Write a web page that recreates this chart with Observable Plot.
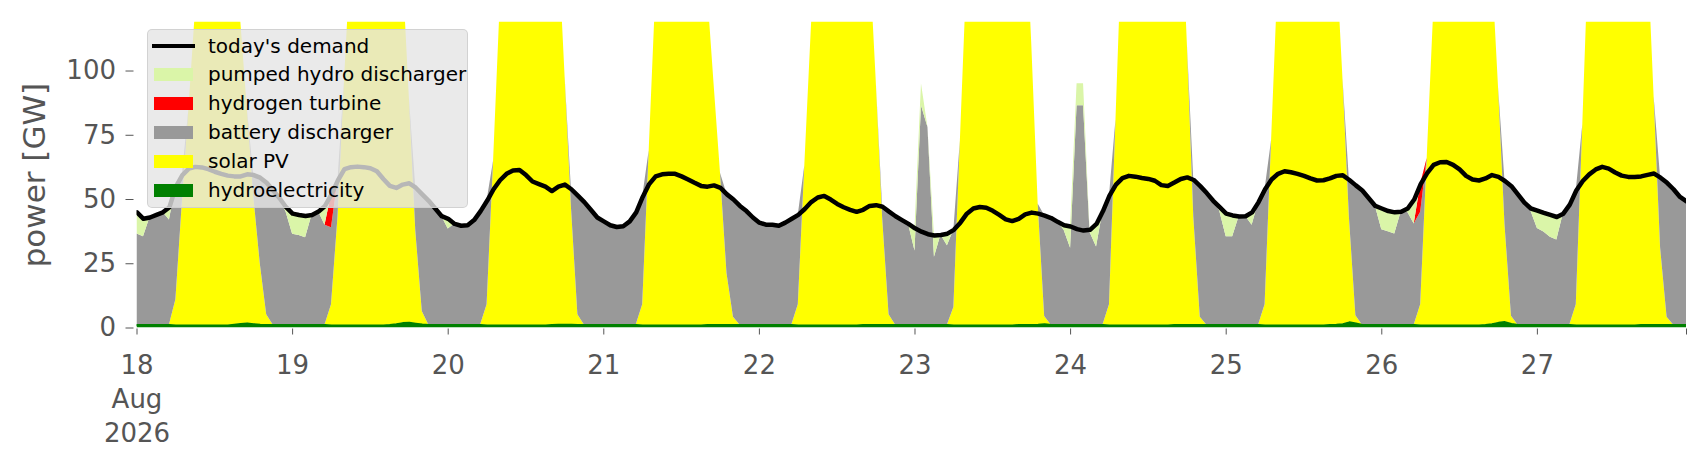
<!DOCTYPE html>
<html><head><meta charset="utf-8">
<script src="https://cdn.jsdelivr.net/npm/d3@7"></script>
<script src="https://cdn.jsdelivr.net/npm/@observablehq/plot@0.6"></script>
<style>
html,body{margin:0;padding:0;background:#fff;}
#wrap{position:relative;width:1706px;height:460px;overflow:hidden;font-family:"DejaVu Sans",sans-serif;background:#fff;}
#wrap svg{display:block;position:absolute;left:0;top:0;}
#legend{position:absolute;left:147px;top:29px;width:321px;height:179px;box-sizing:border-box;background:rgba(229,229,229,0.8);border:1px solid rgba(204,204,204,0.8);border-radius:5px;}
.item{position:absolute;left:0;height:29px;width:100%;}
.swatch{position:absolute;left:6px;width:39px;height:13px;top:8px;}
.lineswatch{position:absolute;left:4px;width:43px;height:4.5px;top:12px;}
.label{position:absolute;left:60px;top:0;line-height:29px;font-size:20px;color:#000;white-space:nowrap;}
</style></head>
<body><div id="wrap"><div id="legend"></div></div>
<script>
// ---------- data (hourly, 18 Aug 2026 00:00 .. 27 Aug 2026 23:00), GW ----------
const demand = [
  45,42.5,43,44,45,47, 55,59.5,62,62.7,62.5,61.8, 60.8,60,59.3,59,59,59.8, 59.5,58.5,56.5,53.5,50.5,47,          // 18
  44.5,44,43.6,44,45.3,47.5, 52,57.5,61.8,62.6,62.8,62.6, 62.2,61,58,55.3,54.5,55.8, 56.3,54.6,52,49.5,46.5,43.5, // 19
  42.5,40.5,39.8,40,42,45.5, 49.5,54,57.5,60,61.3,61.5, 59.5,57,56,55,53.3,55, 55.8,54,51.5,49,46,43,            // 20
  41.5,40,39.3,39.6,41.5,45, 51,56,59,59.8,60,60, 59,57.8,56.5,55.3,55,55.5, 54.5,52,50,47.5,45.5,43,             // 21
  41,40.2,40.2,39.8,41,42.5, 44,46.3,49,50.8,51.4,50, 48.3,47,46,45.2,46,47.5, 47.8,47.2,45.3,43.5,42,40.5,       // 22
  38.8,37.5,36.5,36,36.2,36.7, 38.2,41,44.5,46.5,47.1,46.8, 45.6,44,42.3,41.6,42.5,44.2, 44.9,44.5,43.7,42.8,41.3,40, // 23
  39.5,38.5,37.9,38.2,40.5,45.5, 51.5,55.8,58.3,59.2,58.9,58.4, 58,57.3,55.6,55.3,56.6,58, 58.6,57.6,55.2,52.5,49.5,47, // 24
  44.5,43.8,43.4,43.5,45,49, 54,57.8,60,61,60.6,60, 59.2,58.2,57.4,57.5,58.2,59.2, 59.4,57.6,55.5,53.5,50.5,47.5,  // 25
  46.5,45.5,45,45.2,46.5,50, 56,60.3,63.5,64.5,64.6,63.5, 61.7,59.2,57.8,57.4,58.2,59.5, 58.8,57.2,55.2,52,48.8,46.5, // 26
  45.7,44.8,44,43.2,44.5,48, 53.5,57.2,59.8,61.7,62.7,62, 60.5,59.3,58.8,58.8,59,59.6, 60.1,58.5,56.5,54,51,49.3   // 27
];
const hydro = [
  1.2,1.2,1.2,1.2,1.2,1.2, 1,1,1,1,1,1, 1,1,1,1.3,1.6,1.8, 1.5,1.3,1.2,1.2,1.2,1.2,
  1.2,1.2,1.2,1.2,1.2,1.2, 1,1,1,1,1,1, 1,1,1,1.2,1.5,1.9, 2.0,1.7,1.4,1.2,1.2,1.2,
  1.2,1.2,1.2,1.2,1.2,1.2, 1,1,1,1,1,1, 1,1,1,1,1.2,1.3, 1.3,1.3,1.2,1.2,1.2,1.2,
  1.2,1.2,1.2,1.2,1.2,1.2, 1,1,1,1,1,1, 1,1,1,1,1.2,1.2, 1.2,1.2,1.2,1.2,1.2,1.2,
  1.2,1.2,1.2,1.2,1.2,1.2, 1,1,1,1,1,1, 1,1,1,1,1.2,1.2, 1.2,1.2,1.2,1.2,1.2,1.2,
  1.2,1.2,1.2,1.2,1.2,1.2, 1,1,1,1,1,1, 1,1,1,1,1.2,1.2, 1.2,1.3,1.5,1.2,1.2,1.2,
  1.2,1.2,1.2,1.2,1.2,1.2, 1,1,1,1,1,1, 1,1,1,1,1.2,1.2, 1.2,1.2,1.2,1.2,1.2,1.2,
  1.2,1.2,1.2,1.2,1.2,1.2, 1,1,1,1,1,1, 1,1,1,1,1.2,1.3, 1.5,2.2,1.8,1.2,1.2,1.2,
  1.2,1.2,1.2,1.2,1.2,1.2, 1,1,1,1,1,1, 1,1,1,1,1.2,1.5, 2.0,2.3,1.6,1.2,1.2,1.2,
  1.2,1.2,1.2,1.2,1.2,1.2, 1,1,1,1,1,1, 1,1,1,1,1.2,1.2, 1.2,1.2,1.2,1.2,1.2,1.2
];
const solar = [
  0,0,0,0,0,0, 10,48,84,122,150,165, 172,168,158,140,118,84, 50,24,4,0,0,0,
  0,0,0,0,0,0, 8,42,95,143,170,185, 190,185,178,168,155,138, 88,36,5,0,0,0,
  0,0,0,0,0,0, 8,64,124,165,190,205, 210,205,195,182,167,150, 98,46,4,0,0,0,
  0,0,0,0,0,0, 8,68,128,170,195,210, 212,208,195,172,130,94, 59,20,3,0,0,0,
  0,0,0,0,0,0, 8,62,115,165,190,205, 210,205,195,180,165,145, 96,42,4,0,0,0,
  0,0,0,0,0,0, 7,72,136,180,205,220, 225,220,210,195,180,165, 110,47,3,0,0,0,
  0,0,0,0,0,0, 8,80,152,195,215,225, 228,225,215,200,185,170, 110,42,3,0,0,0,
  0,0,0,0,0,0, 8,72,135,180,205,218, 222,218,205,188,170,145, 96,41,3,0,0,0,
  0,0,0,0,0,0, 8,65,122,175,200,215, 220,215,205,185,165,140, 92,38,3,0,0,0,
  0,0,0,0,0,0, 8,78,150,190,212,224, 228,224,212,196,175,148, 89,30,3,0,0,0
];
const battery = [
  35.4,34.3,41.8,42.8,43.8,40.8, 44,10.5,0,0,0,0, 0,0,0,0,0,0, 8,33.2,51.3,52.3,49.3,43.8,
  35.3,34.8,33.9,42.8,44.1,38.8, 30,14.5,0,0,0,0, 0,0,0,0,0,0, 0,16.9,45.6,48.3,45.3,42.3,
  37.3,39.3,38.6,38.8,40.8,44.3, 40.5,0,0,0,0,0, 0,0,0,0,0,0, 0,6.7,46.3,47.8,44.8,41.8,
  40.3,38.8,38.1,38.4,40.3,43.8, 42,0,0,0,0,0, 0,0,0,0,0,0, 0,30.8,45.8,46.3,44.3,41.8,
  39.8,39,39,38.6,39.8,41.3, 35,0,0,0,0,0, 0,0,0,0,0,0, 0,4,40.1,42.3,40.8,39.3,
  28.8,85.3,76.8,26.3,35,30.8, 30.2,0,0,0,0,0, 0,0,0,0,0,0, 0,0,39.2,41.6,40.1,36.8,
  29.8,85.3,85.3,36,30.3,44.3, 42.5,0,0,0,0,0, 0,0,0,0,0,0, 0,14.4,51,51.3,48.3,44.3,
  34.3,34.3,42.2,42.3,38.8,47.8, 45,0,0,0,0,0, 0,0,0,0,0,0, 0,14.4,50.7,52.3,49.3,46.3,
  37,36.3,35.4,44,43.8,39.3, 36,0,0,0,0,0, 0,0,0,0,0,0, 0,16.9,50.6,50.8,47.6,44.3,
  37.5,36.2,34.1,33,43.3,46.8, 44.5,0,0,0,0,0, 0,0,0,0,0,0, 0,27.3,52.3,52.8,49.8,48.1
];
const hydrogen = [
  0,0,0,0,0,0, 0,0,0,0,0,0, 0,0,0,0,0,0, 0,0,0,0,0,0,
  0,0,0,0,0,0, 13,0,0,0,0,0, 0,0,0,0,0,0, 0,0,0,0,0,0,
  0,0,0,0,0,0, 0,0,0,0,0,0, 0,0,0,0,0,0, 0,0,0,0,0,0,
  0,0,0,0,0,0, 0,0,0,0,0,0, 0,0,0,0,0,0, 0,0,0,0,0,0,
  0,0,0,0,0,0, 0,0,0,0,0,0, 0,0,0,0,0,0, 0,0,0,0,0,0,
  0,0,0,0,0,0, 0,0,0,0,0,0, 0,0,0,0,0,0, 0,0,0,0,0,0,
  0,0,0,0,0,0, 0,0,0,0,0,0, 0,0,0,0,0,0, 0,0,0,0,0,0,
  0,0,0,0,0,0, 0,0,0,0,0,0, 0,0,0,0,0,0, 0,0,0,0,0,0,
  0,0,0,0,0,0, 11,0,0,0,0,0, 0,0,0,0,0,0, 0,0,0,0,0,0,
  0,0,0,0,0,0, 0,0,0,0,0,0, 0,0,0,0,0,0, 0,0,0,0,0,0
];
const pumpedHydro = [
  8.4,7,0,0,0,5, 0,0,0,0,0,0, 0,0,0,0,0,0, 0,0,0,0,0,2,
  8,8,8.5,0,0,7.5, 0,0,0,0,0,0, 0,0,0,0,0,0, 0,0,0,0,0,0,
  4,0,0,0,0,0, 0,0,0,0,0,0, 0,0,0,0,0,0, 0,0,0,0,0,0,
  0,0,0,0,0,0, 0,0,0,0,0,0, 0,0,0,0,0,0, 0,0,0,0,0,0,
  0,0,0,0,0,0, 0,0,0,0,0,0, 0,0,0,0,0,0, 0,0,0,0,0,0,
  8.8,8.5,0,8.5,0,4.7, 0,0,0,0,0,0, 0,0,0,0,0,0, 0,0,0,0,0,2,
  8.5,8.5,8.5,1,9,0, 0,0,0,0,0,0, 0,0,0,0,0,0, 0,0,0,0,0,1.5,
  9,8.3,0,0,5,0, 0,0,0,0,0,0, 0,0,0,0,0,0, 0,0,0,0,0,0,
  8.3,8,8.4,0,1.5,9.5, 0,0,0,0,0,0, 0,0,0,0,0,0, 0,0,0,0,0,1,
  7,7.4,8.7,9,0,0, 0,0,0,0,0,0, 0,0,0,0,0,0, 0,0,0,0,0,0
];

// stacking order, bottom to top
const seriesNames = ["hydroelectricity", "solar PV", "battery discharger", "hydrogen turbine", "pumped hydro discharger"];
const seriesColors = ["#008000", "#ffff00", "#999999", "#ff0000", "#daf5a8"];
const seriesValues = [hydro, solar, battery, hydrogen, pumpedHydro];

const demandName = "today's demand";
const yTicks = [0, 25, 50, 75, 100];
const yMax = 119;
const xTickDays = [18, 19, 20, 21, 22, 23, 24, 25, 26, 27];
const xTickLabels = ["18\nAug\n2026", "19", "20", "21", "22", "23", "24", "25", "26", "27"];

// ---------- build ----------
const start = Date.UTC(2026, 7, 18);
const hours = demand.map((_, i) => new Date(start + i * 3600000));
const stackRows = [];
seriesNames.forEach((name, s) => seriesValues[s].forEach((v, i) => stackRows.push({date: hours[i], series: name, value: v})));
const demandRows = demand.map((v, i) => ({date: hours[i], value: v}));
const hydroRows = hydro.map((v, i) => ({date: hours[i], value: v}));

const labelMap = new Map();
const tickDates = xTickDays.map((d, i) => {
  const t = new Date(Date.UTC(2026, 7, d));
  labelMap.set(+t, xTickLabels[i]);
  return t;
});
tickDates.push(hours[hours.length - 1]);

const chart = Plot.plot({
  width: 1706, height: 460,
  marginLeft: 136.5, marginRight: 20, marginTop: 21.7, marginBottom: 132.5,
  style: {fontFamily: '"DejaVu Sans", sans-serif', fontSize: "26px", color: "#555555", background: "transparent"},
  x: {type: "utc", domain: [hours[0], hours[hours.length - 1]]},
  y: {domain: [0, yMax]},
  color: {domain: seriesNames, range: seriesColors},
  marks: [
    Plot.areaY(stackRows, {x: "date", y: "value", z: "series", fill: "series", order: seriesNames, clip: true}),
    Plot.lineY(hydroRows, {x: "date", y: "value", stroke: seriesColors[0], strokeWidth: 2, clip: true}),
    Plot.lineY(demandRows, {x: "date", y: "value", stroke: "#000", strokeWidth: 4.5, strokeLinejoin: "round", clip: true}),
    Plot.axisY({ticks: yTicks, tickSize: 8, tickPadding: 10, dx: -3, label: null, tickFormat: d => String(d)}),
    Plot.axisX({ticks: tickDates, tickSize: 6, dy: 1, tickPadding: 15, label: null, lineHeight: 1.3,
                tickFormat: d => labelMap.get(+d) ?? ""}),
    Plot.text(["power [GW]"], {frameAnchor: "left", textAnchor: "middle", lineAnchor: "middle", dx: -101.5, rotate: -90, fontSize: 31, fill: "#555555"})
  ]
});
const wrap = document.getElementById("wrap");
const legend = document.getElementById("legend");
wrap.insertBefore(chart, legend);

// ---------- legend (top entry is the demand line, then the stack from top to bottom) ----------
const legendItems = [{label: demandName, color: "#000", line: true}]
  .concat(seriesNames.map((n, i) => ({label: n, color: seriesColors[i], line: false})).reverse());
legendItems.forEach((it, i) => {
  const row = document.createElement("div");
  row.className = "item";
  row.style.top = (1.5 + i * 28.8) + "px";
  const sw = document.createElement("div");
  sw.className = it.line ? "lineswatch" : "swatch";
  sw.style.background = it.color;
  const tx = document.createElement("div");
  tx.className = "label";
  tx.textContent = it.label;
  row.appendChild(sw);
  row.appendChild(tx);
  legend.appendChild(row);
});
</script></body></html>
